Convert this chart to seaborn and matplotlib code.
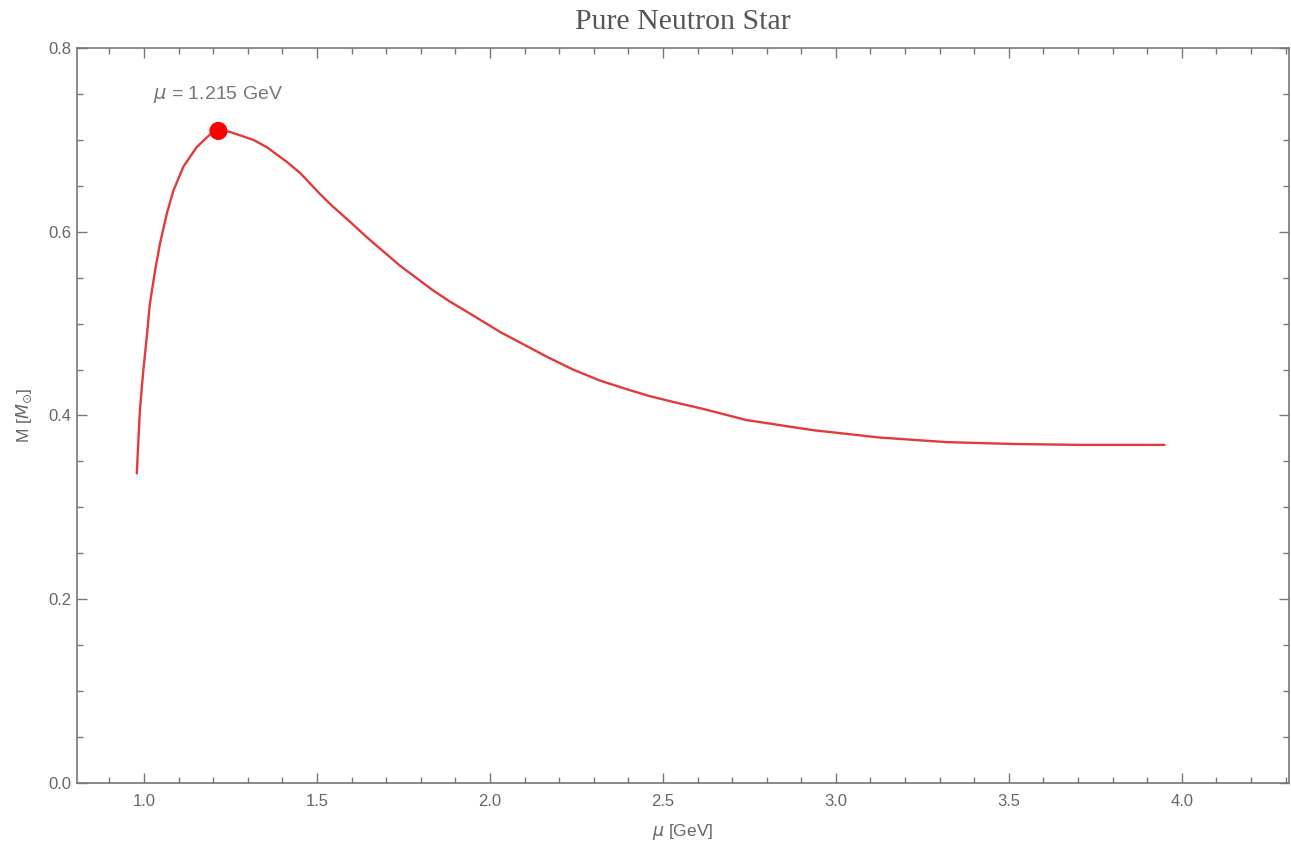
import numpy as np
import pandas as pd
import matplotlib
matplotlib.use("Agg")
import matplotlib.pyplot as plt
from matplotlib.ticker import FixedLocator
import seaborn as sns

# Data
mu = [0.979, 0.988, 0.998, 1.008, 1.017, 1.032, 1.046, 1.066, 1.085, 1.114, 1.152,
      1.191, 1.215, 1.245, 1.277, 1.316, 1.355, 1.413, 1.451, 1.509, 1.547, 1.595,
      1.644, 1.740, 1.836, 1.884, 1.933, 2.029, 2.164, 2.240, 2.318, 2.392, 2.462,
      2.549, 2.607, 2.742, 2.934, 3.127, 3.320, 3.513, 3.705, 3.950]
mass = [0.337, 0.406, 0.4495, 0.486, 0.522, 0.558, 0.587, 0.620, 0.645, 0.671, 0.692,
        0.706, 0.7097, 0.709, 0.705, 0.700, 0.692, 0.676, 0.664, 0.641, 0.627, 0.611,
        0.594, 0.563, 0.536, 0.524, 0.513, 0.491, 0.464, 0.450, 0.438, 0.429, 0.421,
        0.413, 0.408, 0.395, 0.384, 0.376, 0.371, 0.369, 0.368, 0.368]
peak_mu = [1.215]
peak_mass = [0.7097]
peak_label = r"$\mu$ = 1.215 GeV"
x_ticks = [1.0, 1.5, 2.0, 2.5, 3.0, 3.5, 4.0]
y_ticks = [0.0, 0.2, 0.4, 0.6, 0.8]

sns.set_theme(style="white")
plt.rcParams['font.family'] = ['Liberation Sans', 'DejaVu Sans']
plt.rcParams['mathtext.fontset'] = 'dejavusans'

fig = plt.figure(figsize=(12.91, 8.42), dpi=100)
ax = fig.add_axes([0.0596, 0.0701, 0.9389, 0.8729])

df = pd.DataFrame({"mu": mu, "M": mass})
sns.lineplot(data=df, x="mu", y="M", sort=False, color="#e03a3a", linewidth=1.7, ax=ax)
pk = pd.DataFrame({"mu": peak_mu, "M": peak_mass})
sns.scatterplot(data=pk, x="mu", y="M", color="#ff0000", s=170, edgecolor="none",
                ax=ax, zorder=5)
ax.text(1.215, 0.749, peak_label, ha="center", va="center", fontsize=14, color="#777777")

ax.set_xlim(0.806, 4.31)
ax.set_ylim(0.0, 0.8)
ax.set_xticks(x_ticks)
ax.set_yticks(y_ticks)
ax.set_xticklabels([f"{v:.1f}" for v in x_ticks])
ax.set_yticklabels([f"{v:.1f}" for v in y_ticks])
x_minor = [round(0.9 + 0.1 * i, 2) for i in range(35)]
x_minor = [v for v in x_minor if round(v * 2, 2) != round(round(v * 2), 2)]
y_minor = [round(0.05 + 0.05 * i, 2) for i in range(15)]
y_minor = [v for v in y_minor if round(v * 5, 2) != round(round(v * 5), 2)]
ax.xaxis.set_minor_locator(FixedLocator(x_minor))
ax.yaxis.set_minor_locator(FixedLocator(y_minor))

frame_col = "#777777"
for sp in ax.spines.values():
    sp.set_color(frame_col)
    sp.set_linewidth(1.2)
ax.tick_params(which="both", direction="in", top=True, right=True, bottom=True, left=True,
               color=frame_col, labelcolor="#666666", labelsize=12)
ax.tick_params(axis="x", pad=8)
ax.tick_params(axis="y", pad=4)
ax.tick_params(which="major", length=7, width=1)
ax.tick_params(which="minor", length=4, width=1)

ax.set_xlabel(r"$\mu$ [GeV]", fontsize=12.5, color="#666666", labelpad=9)
ax.set_ylabel(r"M [$M_{\odot}$]", fontsize=12.5, color="#666666", labelpad=10)
ax.set_title("Pure Neutron Star", fontsize=21.5, color="#555555",
             family=["Liberation Serif", "DejaVu Serif"], pad=14)

fig.savefig("out.png", dpi=100)
